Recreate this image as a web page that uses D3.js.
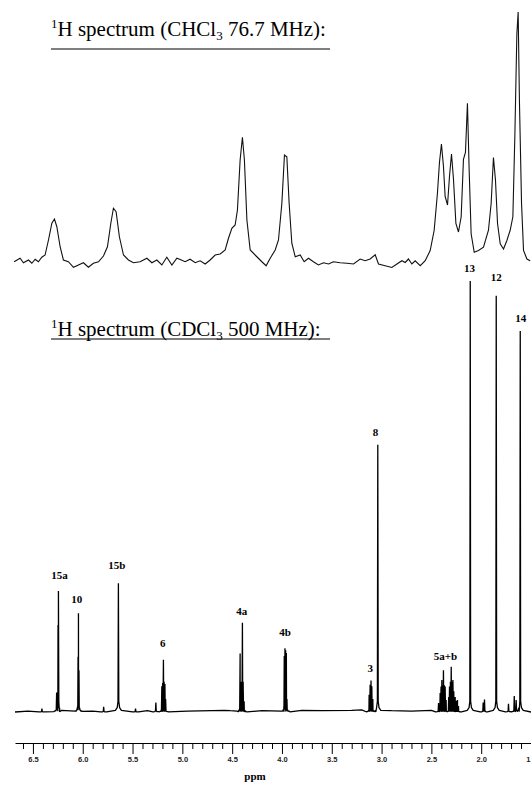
<!DOCTYPE html>
<html>
<head>
<meta charset="utf-8">
<script src="https://cdn.jsdelivr.net/npm/d3@7"></script>
<style>
  body { margin: 0; background: #fff; }
  svg { display: block; }
</style>
</head>
<body>
<svg id="chart" width="531" height="788"></svg>
<script>
// 76.7 MHz spectrum, [ppm, relative intensity]
const upperSpectrum = [
  [6.689,-0.3],[6.629,1.1],[6.595,-0.7],[6.545,0.4],[6.511,-0.9],[6.478,0.7],[6.445,-0.3],[6.411,1.5],
  [6.378,2.4],[6.344,8.4],[6.310,15.1],[6.284,16.8],[6.260,13.7],[6.227,5.7],[6.194,0.4],[6.144,-0.3],
  [6.093,-2.5],[6.043,-1.6],[5.993,-0.7],[5.943,-2.5],[5.893,-0.9],[5.842,-0.3],[5.792,2.0],[5.752,5.7],
  [5.718,15.1],[5.692,21.1],[5.665,19.7],[5.632,9.7],[5.591,2.4],[5.541,0.4],[5.491,-0.7],[5.424,-0.3],
  [5.356,1.1],[5.306,-0.7],[5.256,0.4],[5.206,-1.6],[5.156,1.5],[5.105,-1.6],[5.055,1.1],[5.022,0.6],
  [4.972,-0.3],[4.922,0.7],[4.871,-0.7],[4.821,0.1],[4.771,-1.2],[4.721,0.4],[4.671,2.4],[4.620,2.8],
  [4.570,4.4],[4.537,9.1],[4.503,13.1],[4.470,14.4],[4.447,20.4],[4.420,40.4],[4.397,49.5],[4.377,40.4],
  [4.352,16.4],[4.319,4.4],[4.252,1.7],[4.202,-0.3],[4.159,-1.9],[4.118,1.1],[4.068,4.4],[4.035,8.4],
  [4.001,23.1],[3.975,42.4],[3.951,41.7],[3.928,23.1],[3.901,7.1],[3.867,1.7],[3.817,2.4],[3.777,-0.3],
  [3.734,1.1],[3.684,-0.3],[3.634,-1.6],[3.583,-0.7],[3.533,-1.2],[3.483,-0.3],[3.416,-0.7],[3.348,-0.9],
  [3.282,-1.2],[3.215,0.8],[3.165,0.1],[3.115,0.8],[3.064,2.5],[3.031,-1.2],[2.964,-1.9],[2.897,-2.6],
  [2.846,-1.2],[2.796,0.1],[2.763,-0.6],[2.730,0.8],[2.696,-1.2],[2.663,0.1],[2.612,-1.9],[2.562,0.1],
  [2.512,4.2],[2.472,12.3],[2.439,27.2],[2.419,39.4],[2.399,46.8],[2.379,38.0],[2.362,25.8],[2.338,22.4],
  [2.318,34.0],[2.298,42.8],[2.278,32.6],[2.254,15.0],[2.228,11.6],[2.201,17.7],[2.178,40.7],[2.158,43.4],
  [2.138,63.1],[2.121,36.7],[2.101,10.9],[2.070,3.5],[2.027,4.2],[1.977,5.5],[1.927,12.3],[1.900,23.1],
  [1.877,41.4],[1.857,32.6],[1.836,15.0],[1.809,6.9],[1.776,4.8],[1.742,8.2],[1.709,12.3],[1.682,17.7],
  [1.662,50.2],[1.642,90.8],[1.629,99.6],[1.616,63.8],[1.595,23.1],[1.575,4.2],[1.541,0.8],[1.508,0.1]
];

// 500 MHz spectrum: individual lines [ppm, height]
const lowerLines = [
  [6.41,0.8],[6.262,4.5],[6.248,20.2],[6.244,28.1],[6.047,12.8],[6.043,22.9],[6.038,9.7],[5.79,1.2],
  [5.642,29.9],[5.47,0.8],[5.266,2.2],[5.206,6],[5.198,6.7],[5.19,12.1],[5.183,7],[5.175,6.5],[5.168,3],
  [4.42,13.6],[4.413,7],[4.405,7],[4.397,20.7],[4.39,7],[4.38,2.5],
  [3.977,13],[3.97,14.8],[3.963,14.3],[3.956,13.7],[3.95,3],
  [3.125,4],[3.115,6.3],[3.106,7.3],[3.098,6],[3.088,3],[3.038,62],
  [2.428,2.1],[2.412,4.4],[2.403,5.9],[2.395,7.4],[2.387,6.2],[2.379,9.7],[2.37,6.2],[2.362,5.9],[2.352,2.8],
  [2.326,3.5],[2.318,5.9],[2.309,7],[2.301,10.5],[2.292,7],[2.284,7.4],[2.275,4.8],[2.261,3.5],[2.249,2.6],
  [2.238,2.8],[2.228,1.4],[2.11,100],[1.98,2.2],[1.967,2.9],[1.849,96.6],[1.726,1.9],[1.668,3.7],
  [1.649,2.8],[1.608,88.4]
];
const lowerBaseline = [
  [6.68,0],[6.55,0.2],[5.9,0.2],[5.35,0.3],[4.95,0.2],[4.58,0.4],[4.52,0.3],[4.2,0.3],
  [3.8,0.4],[3.6,0.3],[3.3,0.4],[3.2,0.5],[2.9,0.3],[2.7,0.2],[2.5,0.4],[1.5,0]
];

// [text, ppm, level]
const peakLabels = [
  ["15a",6.234,30.9],["10",6.059,25.3],["15b",5.658,33.1],["6",5.196,15.1],["4a",4.403,22.5],
  ["4b",3.968,17.6],["3",3.113,9.3],["8",3.06,64.0],["5a+b",2.358,12.1],["13",2.117,102.2],
  ["12",1.849,99.9],["14",1.602,90.5]
];

const majorTicks = [6.5,6.0,5.5,5.0,4.5,4.0,3.5,3.0,2.5,2.0,1.5];
const minorTicks = [6.6,6.4,6.3,6.2,6.1,5.9,5.8,5.7,5.6,5.4,5.3,5.2,5.1,4.9,4.8,4.7,4.6,
  4.4,4.3,4.2,4.1,3.9,3.8,3.7,3.6,3.4,3.3,3.2,3.1,2.9,2.8,2.7,2.6,2.4,2.3,2.2,2.1,1.9,1.8,1.7,1.6];

const titles = [
  {sup:"1", main:"H spectrum (CHCl", sub:"3", rest:" 76.7 MHz):"},
  {sup:"1", main:"H spectrum (CDCl", sub:"3", rest:" 500 MHz):"}
];

const svg = d3.select("#chart");
const serif = "'Liberation Serif','Times New Roman',Times,serif";

const x = d3.scaleLinear().domain([6.68, 1.5]).range([15, 531]);
const yUp = d3.scaleLinear().domain([0, 100]).range([261, 11]);
const yLow = d3.scaleLinear().domain([0, 100]).range([712, 281]);

// titles
const titleBase = [36, 336];
const underY = [49, 339];
titles.forEach((t, i) => {
  const txt = svg.append("text")
    .attr("x", 51).attr("y", titleBase[i])
    .attr("font-family", serif).attr("font-size", 21).attr("fill", "#000");
  txt.append("tspan").attr("font-size", 13).attr("dy", -8).text(t.sup);
  txt.append("tspan").attr("dy", 8).text(t.main);
  txt.append("tspan").attr("font-size", 13).attr("dy", 4).text(t.sub);
  txt.append("tspan").attr("dy", -4).text(t.rest);
  svg.append("line")
    .attr("x1", 51).attr("x2", 330)
    .attr("y1", underY[i]).attr("y2", underY[i])
    .attr("stroke", "#000").attr("stroke-width", 1.2);
});

// upper spectrum
svg.append("path")
  .datum(upperSpectrum)
  .attr("fill", "none")
  .attr("stroke", "#111")
  .attr("stroke-width", 1.1)
  .attr("d", d3.line().x(d => x(d[0])).y(d => yUp(d[1])));

// lower spectrum: sticks with a small foot
function stickPoints(lines) {
  const pts = lowerBaseline.slice();
  lines.forEach(([p, h]) => {
    const f = Math.min(h * 0.1, 2.5);
    pts.push([p + 0.03, f * 0.15], [p + 0.012, f * 0.4], [p + 0.004, f], [p, h],
             [p - 0.004, f], [p - 0.012, f * 0.4], [p - 0.03, f * 0.15]);
  });
  return pts.sort((a, b) => b[0] - a[0]);
}

svg.append("path")
  .datum(stickPoints(lowerLines))
  .attr("fill", "none")
  .attr("stroke", "#000")
  .attr("stroke-width", 1.3)
  .attr("stroke-linejoin", "bevel")
  .attr("d", d3.line().x(d => x(d[0])).y(d => yLow(d[1])));

svg.append("g")
  .selectAll("text")
  .data(peakLabels)
  .join("text")
  .attr("x", d => x(d[1]))
  .attr("y", d => yLow(d[2]))
  .attr("text-anchor", "middle")
  .attr("font-family", serif)
  .attr("font-weight", "bold")
  .attr("font-size", 11)
  .text(d => d[0]);

// ppm axis
const axisY = 743;
const minorAxis = svg.append("g")
  .attr("transform", `translate(0,${axisY})`)
  .call(d3.axisBottom(x).tickValues(minorTicks).tickSize(6).tickSizeOuter(0).tickFormat(""));
minorAxis.select(".domain").remove();

const majorAxis = svg.append("g")
  .attr("transform", `translate(0,${axisY})`)
  .call(d3.axisBottom(x).tickValues(majorTicks).tickSize(11).tickSizeOuter(0).tickFormat(d3.format(".1f")));
majorAxis.selectAll("text")
  .attr("font-family", "'Liberation Sans',Arial,sans-serif")
  .attr("font-weight", "bold")
  .attr("font-size", 7.5)
  .attr("fill", "#222");
svg.selectAll(".tick line").attr("stroke", "#000");
majorAxis.select(".domain").attr("stroke", "#000");

svg.append("text")
  .attr("x", 255).attr("y", 780)
  .attr("text-anchor", "middle")
  .attr("font-family", serif)
  .attr("font-weight", "bold")
  .attr("font-size", 11)
  .text("ppm");
</script>
</body>
</html>
